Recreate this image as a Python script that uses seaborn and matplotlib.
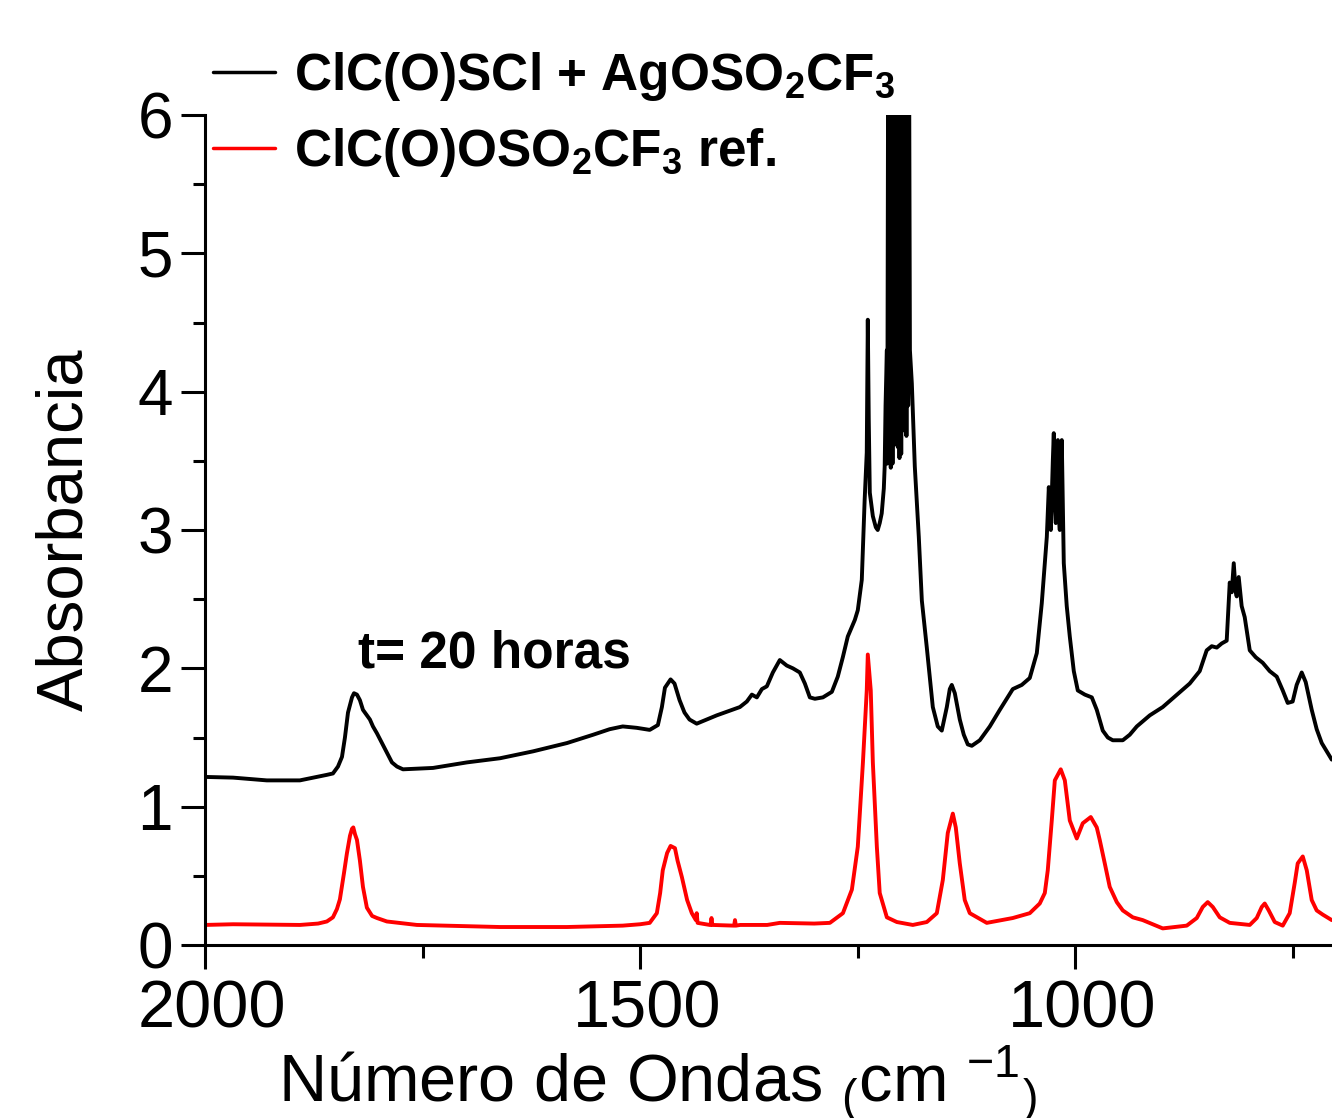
import matplotlib
matplotlib.use("Agg")
import matplotlib.pyplot as plt
import matplotlib.transforms as mtransforms
import seaborn as sns
import pandas as pd

# ---- data: (wavenumber cm-1, absorbance) ----
black_label = r"ClC(O)SCl + AgOSO$_\mathbf{2}$CF$_\mathbf{3}$"
red_label = r"ClC(O)OSO$_\mathbf{2}$CF$_\mathbf{3}$ ref."
annotation = "t= 20 horas"

black_points = [
    (2000, 1.215), (1967.8, 1.21), (1929, 1.19), (1891, 1.19), (1860, 1.23), (1853, 1.24),
    (1847.2, 1.29), (1842.6, 1.36), (1839.2, 1.50), (1835.7, 1.68), (1831.1, 1.79),
    (1828.8, 1.82), (1825.4, 1.81), (1822, 1.77), (1818.5, 1.70), (1814, 1.66),
    (1810.5, 1.63), (1807, 1.58), (1802.4, 1.53), (1796.7, 1.46), (1790.9, 1.39),
    (1785.2, 1.32), (1779.4, 1.29), (1772.5, 1.27), (1738, 1.28), (1699, 1.32),
    (1661, 1.35), (1623, 1.40), (1584, 1.46), (1554, 1.52), (1535, 1.56), (1520, 1.58),
    (1504, 1.57), (1489, 1.555), (1479.6, 1.59), (1475, 1.72), (1471.5, 1.86),
    (1465, 1.92), (1460.5, 1.89), (1454.7, 1.77), (1449, 1.68), (1443.3, 1.63),
    (1435, 1.60), (1412, 1.66), (1385.4, 1.72), (1377.4, 1.76), (1371.6, 1.81),
    (1365.9, 1.79), (1360.1, 1.85), (1354.4, 1.87), (1347.5, 1.97), (1339.5, 2.06),
    (1331.5, 2.02), (1324.5, 2.00), (1316.5, 1.97), (1310.7, 1.89), (1305, 1.79),
    (1299.2, 1.78), (1290, 1.79), (1279.7, 1.83), (1272.9, 1.94), (1267.1, 2.08),
    (1261.4, 2.23), (1253.3, 2.35), (1249.9, 2.42), (1245.3, 2.64), (1242, 3.22),
    (1239.6, 3.56), (1238.4, 4.52), (1237.3, 3.80), (1236.1, 3.27), (1232.6, 3.10),
    (1229.2, 3.02), (1227, 3.00), (1224.7, 3.05), (1222.4, 3.12), (1220, 3.30),
    (1219, 3.46), (1218, 3.90), (1216.5, 4.30), (1216, 3.48),
    (1215, 6.6), (1214, 3.50), (1213, 6.6), (1212, 3.45), (1211, 6.6), (1210, 3.48),
    (1209, 6.6), (1208, 3.62), (1207, 6.6), (1206, 3.75), (1205, 6.6), (1204, 3.60),
    (1203, 6.6), (1202, 3.52), (1201, 6.6), (1200, 3.55), (1199, 6.6), (1198, 3.72),
    (1197, 6.6), (1196, 3.80), (1195, 6.6), (1194, 3.68), (1193, 6.6), (1192, 3.90),
    (1191, 6.6), (1190, 4.30),
    (1187.8, 4.06), (1184.4, 3.46), (1179.8, 2.95), (1176.3, 2.49), (1170.6, 2.15),
    (1163.7, 1.72), (1158, 1.58), (1153.4, 1.55), (1147.6, 1.72), (1144.2, 1.85),
    (1141.9, 1.88), (1138.4, 1.82), (1132.7, 1.63), (1128.1, 1.52), (1123.5, 1.45),
    (1118.9, 1.44), (1109.7, 1.48), (1098.2, 1.58), (1086.7, 1.70), (1071.8, 1.85),
    (1061.5, 1.88), (1052.3, 1.93), (1044.2, 2.11), (1038.5, 2.47), (1032.7, 2.95),
    (1030.4, 3.31), (1028.1, 3.00), (1025.8, 3.50), (1024.7, 3.70), (1023.5, 3.20),
    (1022.4, 3.05), (1020, 3.65), (1018.9, 3.10), (1017.8, 3.00), (1015.5, 3.65),
    (1014.4, 3.20), (1013.2, 2.76), (1009.8, 2.45), (1006.3, 2.23), (1001.7, 1.98),
    (997.1, 1.84), (989, 1.81), (981, 1.79), (975.3, 1.70), (968.4, 1.55),
    (962.6, 1.50), (956.9, 1.48), (945.4, 1.48), (937.4, 1.52), (929.3, 1.58),
    (914.4, 1.66), (899.5, 1.72), (868.5, 1.89), (857, 1.98), (849, 2.13),
    (843.2, 2.16), (837.4, 2.15), (831.7, 2.18), (826, 2.20), (822.5, 2.62),
    (820.2, 2.55), (817.9, 2.76), (815.6, 2.55), (814.5, 2.52), (812.2, 2.66),
    (808.8, 2.45), (805.3, 2.37), (799.5, 2.13), (792.6, 2.08), (784.6, 2.04),
    (776.6, 1.98), (768.5, 1.94), (761.6, 1.84), (755.9, 1.75), (750.2, 1.76),
    (745.6, 1.88), (739.8, 1.97), (735.2, 1.90), (728.3, 1.70), (722.6, 1.56),
    (716.8, 1.46), (705.3, 1.34),
]

red_points = [
    (2000, 0.145), (1967.8, 0.15), (1890.9, 0.145), (1870, 0.155), (1860, 0.17),
    (1853, 0.20), (1848.4, 0.26), (1845, 0.33), (1840.3, 0.52), (1837, 0.66),
    (1833.4, 0.79), (1831.1, 0.84), (1829.6, 0.85), (1827.6, 0.80), (1825.4, 0.76),
    (1822, 0.61), (1818.5, 0.42), (1814, 0.27), (1808, 0.21), (1802.4, 0.195),
    (1791, 0.17), (1756.5, 0.145), (1661, 0.13), (1584, 0.13), (1520, 0.14),
    (1500, 0.15), (1489, 0.16), (1480.8, 0.23), (1477, 0.376), (1474, 0.54),
    (1469, 0.665), (1465, 0.716), (1460, 0.70), (1457, 0.61), (1452, 0.49),
    (1446, 0.325), (1440.6, 0.23), (1436, 0.18), (1435, 0.23), (1434, 0.16),
    (1420, 0.145), (1419, 0.145), (1418, 0.195), (1417, 0.145), (1392, 0.14),
    (1391, 0.18), (1390, 0.14), (1385, 0.145), (1354, 0.145), (1339.5, 0.16),
    (1300, 0.155), (1282, 0.16), (1267, 0.23), (1256.7, 0.40), (1249.9, 0.71),
    (1244, 1.32), (1239.6, 1.84), (1238.4, 2.10), (1235, 1.84), (1232.6, 1.32),
    (1228, 0.71), (1224.7, 0.376), (1216.5, 0.20), (1205, 0.166), (1186.7, 0.145),
    (1170.6, 0.166), (1159.1, 0.23), (1152.2, 0.47), (1146.5, 0.81), (1140.7, 0.95),
    (1137.3, 0.85), (1132.7, 0.59), (1127, 0.325), (1121.2, 0.23), (1101.7, 0.16),
    (1071.8, 0.195), (1052.3, 0.23), (1040.8, 0.30), (1035, 0.376), (1031.6, 0.54),
    (1027, 0.90), (1023.5, 1.19), (1016.7, 1.27), (1012, 1.19), (1006.3, 0.90),
    (998.3, 0.77), (991.4, 0.88), (982.2, 0.925), (975.3, 0.85), (971.9, 0.76),
    (966.1, 0.59), (960.4, 0.42), (952.3, 0.31), (945.4, 0.25), (933.9, 0.20),
    (922.5, 0.18), (899.5, 0.12), (871.9, 0.14), (860.4, 0.195), (853.5, 0.275),
    (847.8, 0.31), (842, 0.275), (834, 0.20), (822.5, 0.16), (799.5, 0.145),
    (791.5, 0.195), (785.7, 0.275), (782.3, 0.30), (777.7, 0.25), (770.8, 0.166),
    (761.6, 0.14), (753.6, 0.23), (747.8, 0.45), (744.4, 0.59), (738.6, 0.64),
    (734, 0.54), (728.3, 0.325), (722.6, 0.25), (715.7, 0.22), (705.3, 0.18),
]

x_major = [2000, 1500, 1000]
x_minor = [1750, 1250, 750]
y_major = [0, 1, 2, 3, 4, 5, 6]
y_minor = [0.5, 1.5, 2.5, 3.5, 4.5, 5.5]

df = pd.concat([
    pd.DataFrame(black_points, columns=["wn", "A"]).assign(serie=black_label),
    pd.DataFrame(red_points, columns=["wn", "A"]).assign(serie=red_label),
], ignore_index=True)

sns.set_theme(style="ticks", rc={"text.color": "black", "axes.labelcolor": "black",
                                 "xtick.color": "black", "ytick.color": "black",
                                 "axes.edgecolor": "black"})
plt.rcParams["font.family"] = ["Liberation Sans", "DejaVu Sans"]
plt.rcParams["mathtext.fontset"] = "custom"
plt.rcParams["mathtext.rm"] = "Liberation Sans"
plt.rcParams["mathtext.bf"] = "Liberation Sans:bold"
plt.rcParams["mathtext.it"] = "Liberation Sans:italic"

fig = plt.figure(figsize=(13.32, 11.18), dpi=100)
ax = fig.add_axes([205 / 1332, 1 - 945 / 1118, (1332 - 205) / 1332, (945 - 115) / 1118])

sns.lineplot(data=df, x="wn", y="A", hue="serie", estimator=None, sort=False,
             palette={black_label: "black", red_label: "#ff0000"},
             linewidth=2.8, ax=ax, legend=True)

ax.set_xlim(2000, 705)
ax.set_ylim(0, 6)
ax.set_xticks(x_major)
ax.set_xticks(x_minor, minor=True)
ax.set_yticks(y_major)
ax.set_yticks(y_minor, minor=True)
ax.tick_params(axis="both", which="major", direction="out", length=17, width=2.2,
               pad=6, color="black", labelcolor="black")
ax.tick_params(axis="y", which="major", labelsize=46)
ax.tick_params(axis="x", which="major", labelsize=48, pad=8)
ax.tick_params(axis="both", which="minor", direction="out", length=9, width=2.2,
               color="black")
offset = mtransforms.ScaledTranslation(7 / 100, 0, fig.dpi_scale_trans)
for lab in ax.get_xticklabels():
    lab.set_transform(lab.get_transform() + offset)
for s in ["top", "right"]:
    ax.spines[s].set_visible(False)
for s in ["left", "bottom"]:
    ax.spines[s].set_linewidth(2.2)
    ax.spines[s].set_color("black")

ax.set_xlabel("Número de Ondas $_{(}$cm $^{-1}$$_{)}$", fontsize=48)
ax.xaxis.set_label_coords((657 - 205) / 1127, -(1084 - 945) / 830, transform=ax.transAxes)
ax.xaxis.label.set_va("center")
ax.set_ylabel("Absorbancia", fontsize=47, labelpad=30)

ax.text(1824, 2.10, annotation, fontsize=37, fontweight="bold", ha="left", va="center")

leg = ax.legend(loc="upper left", bbox_to_anchor=(213 / 1332, 1 - 50 / 1118),
                bbox_transform=fig.transFigure, frameon=False,
                prop={"size": 37, "weight": "bold"}, handlelength=1.2,
                handletextpad=0.37, borderpad=0, borderaxespad=0, labelspacing=0.45)
for line in leg.get_lines():
    line.set_linewidth(2.5)

fig.savefig("out.png", dpi=100)
